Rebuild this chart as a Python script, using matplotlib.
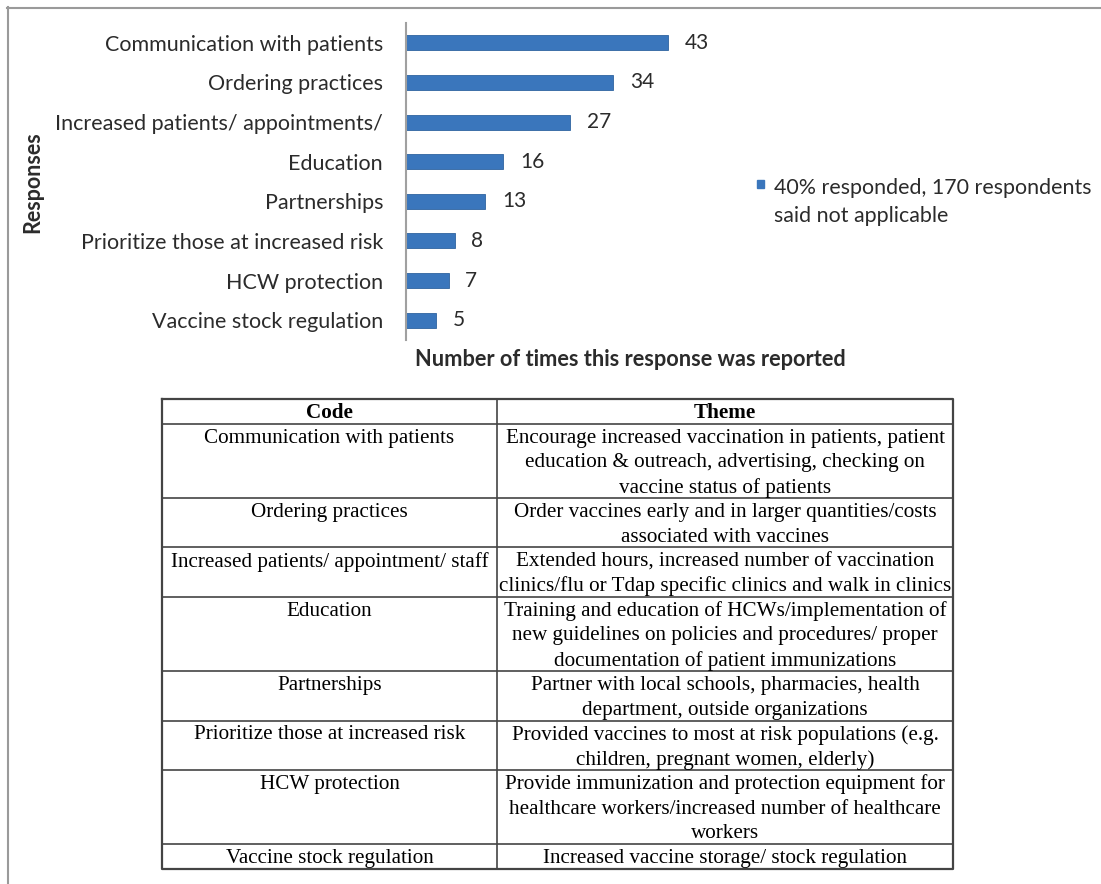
import matplotlib.pyplot as plt
from matplotlib.lines import Line2D
from matplotlib.patches import Rectangle

W, H = 1101, 884

# chart data
responses = ["Communication with patients", "Ordering practices",
             "Increased patients/ appointments/", "Education", "Partnerships",
             "Prioritize those at increased risk", "HCW protection",
             "Vaccine stock regulation"]
counts = [43, 34, 27, 16, 13, 8, 7, 5]
legend_label = "40% responded, 170 respondents\nsaid not applicable"

# table data
codes = ["Communication with patients", "Ordering practices",
         "Increased patients/ appointment/ staff", "Education", "Partnerships",
         "Prioritize those at increased risk", "HCW protection",
         "Vaccine stock regulation"]
themes = [
    ["Encourage increased vaccination in patients, patient",
     "education & outreach, advertising, checking on",
     "vaccine status of patients"],
    ["Order vaccines early and in larger quantities/costs",
     "associated with vaccines"],
    ["Extended hours, increased number of vaccination",
     "clinics/flu or Tdap specific clinics and walk in clinics"],
    ["Training and education of HCWs/implementation of",
     "new guidelines on policies and procedures/ proper",
     "documentation of patient immunizations"],
    ["Partner with local schools, pharmacies, health",
     "department, outside organizations"],
    ["Provided vaccines to most at risk populations (e.g.",
     "children, pregnant women, elderly)"],
    ["Provide immunization and protection equipment for",
     "healthcare workers/increased number of healthcare",
     "workers"],
    ["Increased vaccine storage/ stock regulation"],
]

bar_color = "#3A76BC"
txt_color = "#2b2b2b"
sans = ["Lato", "DejaVu Sans"]
serif = ["Liberation Serif", "DejaVu Serif"]

fig = plt.figure(figsize=(W / 100, H / 100), dpi=100)

def fx(px):
    return px / W

def fy(py):
    return 1 - py / H

# outer border (top and left only)
fig.add_artist(Line2D([fx(7), 1], [fy(7.5), fy(7.5)], color="#9a9a9a", lw=1.5))
fig.add_artist(Line2D([fx(7.5), fx(7.5)], [fy(7), 0], color="#9a9a9a", lw=1.5))

# ---- bar chart ----
ax = fig.add_axes([fx(406), fy(340), fx(6.09 * 50), (340 - 23) / H])
y = list(range(len(responses)))
ax.barh(y, counts, height=0.38, color=bar_color, edgecolor="#2f639f", linewidth=0.6)
ax.set_ylim(7.5, -0.5)
ax.set_xlim(0, 50)
ax.set_yticks(y)
ax.set_yticklabels(responses, fontsize=15.5, family=sans, color=txt_color)
ax.tick_params(axis="y", length=0, pad=16.5)
ax.set_xticks([])
for s in ["top", "right", "bottom"]:
    ax.spines[s].set_visible(False)
ax.spines["left"].set_color("#a0a0a0")
ax.spines["left"].set_linewidth(1.5)
for yi, c in zip(y, counts):
    ax.annotate(str(c), (c, yi), xytext=(12, 0), textcoords="offset points",
                va="center", ha="left", fontsize=15, family=sans, color=txt_color)

fig.text(fx(630), fy(360), "Number of times this response was reported",
         ha="center", va="center", fontsize=15.7, fontweight="bold", family=sans,
         color=txt_color)
fig.text(fx(33), fy(182), "Responses", ha="center", va="center", rotation=90,
         fontsize=15.5, fontweight="bold", family=sans, color=txt_color)

# legend
fig.add_artist(Rectangle((fx(757), fy(188)), fx(7), 8 / H, color=bar_color,
                         transform=fig.transFigure))
fig.text(fx(774), fy(202), legend_label, ha="left", va="center", fontsize=15.4,
         family=sans, color=txt_color, linespacing=1.45)

# ---- table ----
tax = fig.add_axes([fx(162), fy(869), fx(953 - 162), (869 - 399) / H])
nlines = [1] + [len(t) for t in themes]
total = sum(nlines)
tax.set_xlim(0, 1)
tax.set_ylim(total, 0)
tax.axis("off")
xdiv = (497 - 162) / (953 - 162)
lc = "#444444"
tax.plot([0, 1, 1, 0, 0], [0, 0, total, total, 0], color=lc, lw=1.6, clip_on=False)
tax.plot([xdiv, xdiv], [0, total], color=lc, lw=1.2)

fs = 15.2
dy = 0.58
tax.text(xdiv / 2, dy, "Code", ha="center", va="center", fontsize=fs,
         fontweight="bold", family=serif)
tax.text((xdiv + 1) / 2, dy, "Theme", ha="center", va="center", fontsize=fs,
         fontweight="bold", family=serif)
row = 1
for code, theme in zip(codes, themes):
    tax.plot([0, 1], [row, row], color=lc, lw=1.2)
    tax.text(xdiv / 2, row + dy, code, ha="center", va="center", fontsize=fs,
             family=serif)
    for i, line in enumerate(theme):
        tax.text((xdiv + 1) / 2, row + i + dy, line, ha="center", va="center",
                 fontsize=fs, family=serif)
    row += len(theme)

fig.savefig("out.png", dpi=100)
